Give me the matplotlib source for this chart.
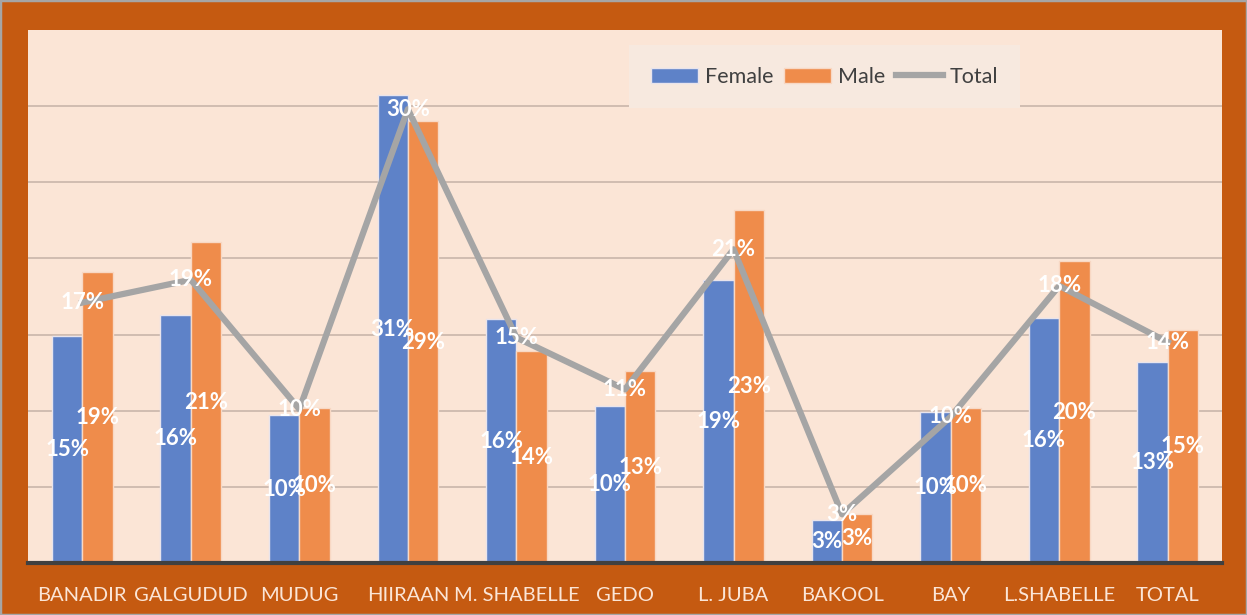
import numpy as np
import matplotlib.pyplot as plt
from matplotlib.patches import Rectangle

regions = ['BANADIR', 'GALGUDUD', 'MUDUG', 'HIIRAAN', 'M. SHABELLE', 'GEDO',
           'L. JUBA', 'BAKOOL', 'BAY', 'L.SHABELLE', 'TOTAL']
female = [14.9, 16.3, 9.7, 30.7, 16.0, 10.3, 18.6, 2.8, 9.9, 16.1, 13.2]
male = [19.1, 21.1, 10.2, 29.0, 13.9, 12.6, 23.2, 3.2, 10.2, 19.8, 15.3]
total = [17.1, 18.6, 10.1, 29.8, 14.8, 11.4, 20.6, 3.2, 9.6, 18.2, 14.5]

frame = '#C55A11'
panel = '#FBE5D6'
blue = '#5E82C8'
orange = '#EF8C4B'
grey = '#A5A5A5'

plt.rcParams['font.family'] = ['Lato', 'DejaVu Sans']

fig = plt.figure(figsize=(12.47, 6.15), dpi=100, facecolor=frame)
fig.patches.append(Rectangle((0, 0), 1, 1, transform=fig.transFigure,
                             fill=False, edgecolor='#A6A6A6', linewidth=2.5))
ax = fig.add_axes([28 / 1247, 52 / 615, 1194 / 1247, 533 / 615])
ax.set_facecolor(panel)

x = np.arange(len(regions))
w = 0.28
ax.bar(x - w / 2, female, w, color=blue, edgecolor='#E8E4EC', linewidth=1, label='Female', zorder=2)
ax.bar(x + w / 2, male, w, color=orange, edgecolor='#F8D8C4', linewidth=1, label='Male', zorder=2)
ax.plot(x, total, color=grey, linewidth=4.5, label='Total', zorder=3)

lab = dict(color='white', fontsize=16, fontweight='bold', ha='center', va='center', zorder=5)
for i in range(len(regions)):
    ax.text(x[i] - w / 2, female[i] / 2, '%d%%' % round(female[i]), **lab)
    ax.text(x[i] + w / 2, male[i] / 2, '%d%%' % round(male[i]), **lab)
    ax.text(x[i], total[i], '%d%%' % round(total[i]), **lab)

ax.set_xlim(-0.5, len(regions) - 0.5)
ax.set_ylim(0, 35)
ax.set_yticks([5, 10, 15, 20, 25, 30])
ax.yaxis.grid(True, color='#C9B6AA', linewidth=1.2, zorder=0)
ax.set_axisbelow(True)
ax.tick_params(axis='y', left=False, labelleft=False)
ax.tick_params(axis='x', bottom=False, pad=14, labelsize=14.5, labelcolor='#FBE5D6')
ax.set_xticks(x)
ax.set_xticklabels(regions)
for s in ['top', 'left', 'right']:
    ax.spines[s].set_visible(False)
ax.spines['bottom'].set_color('#404040')
ax.spines['bottom'].set_linewidth(3)

handles, labels = ax.get_legend_handles_labels()
order = [labels.index(n) for n in ['Female', 'Male', 'Total']]
leg = ax.legend([handles[k] for k in order], [labels[k] for k in order],
                loc='center', bbox_to_anchor=(0.667, 0.912), ncol=3, fontsize=15.5,
                frameon=True, fancybox=False, edgecolor='none', facecolor='#F7E9DF',
                framealpha=1, handlelength=2.2, handleheight=0.7, columnspacing=0.5,
                handletextpad=0.3, borderpad=1.0, borderaxespad=0)
for t in leg.get_texts():
    t.set_color('#404040')

fig.savefig('out.png', dpi=100, facecolor=frame)
